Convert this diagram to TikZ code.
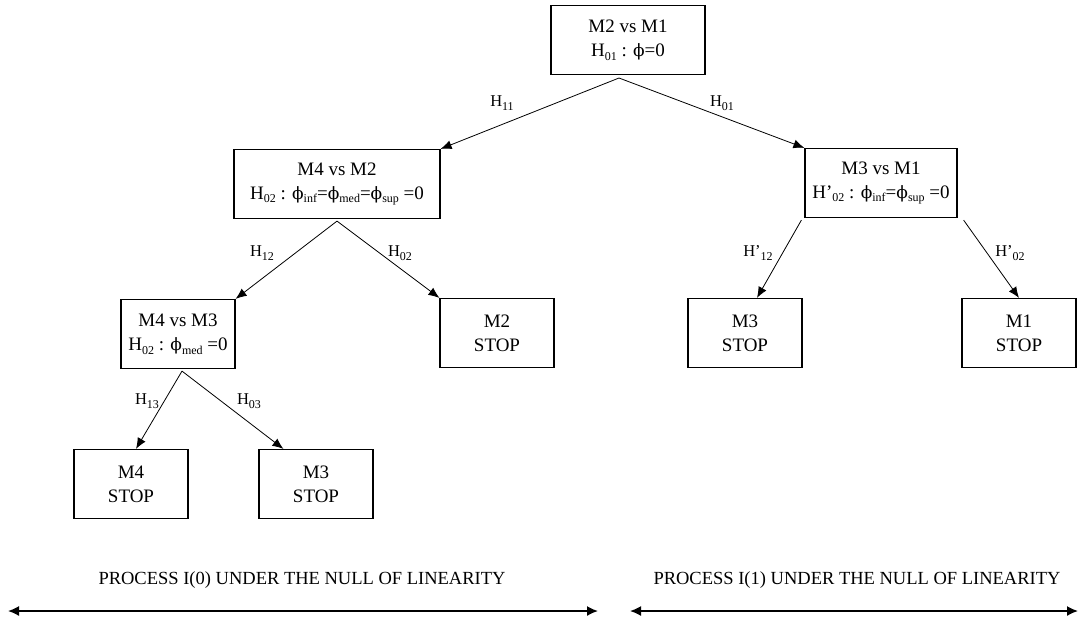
\documentclass[tikz,border=0pt]{standalone}
\usepackage{fontspec}
\setmainfont{Liberation Serif}
\newfontfamily\grk{DejaVu Serif}
\usetikzlibrary{positioning,arrows.meta}
\newcommand{\ph}{{\grk\fontsize{17}{17}\selectfont ϕ}}
\newcommand{\subx}[1]{\raisebox{-.45ex}{\fontsize{12}{12}\selectfont #1}}
\newcommand{\lsub}[1]{\raisebox{-.6ex}{\fontsize{12}{12}\selectfont #1}}
\tikzstyle{test} = [draw, line width=1.2pt, align=center, font=\fontsize{19}{24}\selectfont, inner sep=0pt, minimum height=69pt]
\tikzstyle{stopbox} = [test, minimum width=114pt]
\tikzstyle{lbl} = [font=\fontsize{16.5}{16.5}\selectfont, inner sep=1pt]
\tikzstyle{arr} = [-{Latex[length=11pt,width=9pt]}, line width=0.8pt]
\tikzstyle{span} = [{Latex[length=11pt,width=10pt]}-{Latex[length=11pt,width=10pt]}, line width=1.6pt]

\begin{document}
\begin{tikzpicture}[x=1pt,y=-1pt]
        \useasboundingbox (0,0) rectangle (1082,622);
        %Blocks
        \node [test, minimum width=154pt] (m21) at (628,40) {M2 vs M1\\H\subx{01} : \ph=0};
        \node [test, minimum width=206pt] (m42) at (337,184) {M4 vs M2\\H\subx{02} : \ph\subx{inf}=\ph\subx{med}=\ph\subx{sup} =0};
        \node [test, minimum width=152pt] (m31) at (881,183) {M3 vs M1\\H’\subx{02} : \ph\subx{inf}=\ph\subx{sup} =0};
        \node [test, minimum width=114pt] (m43) at (178,334) {M4 vs M3\\H\subx{02} : \ph\subx{med} =0};
        \node [stopbox] (m2stop) at (497,333) {M2\\STOP};
        \node [stopbox] (m3stopr) at (745,333) {M3\\STOP};
        \node [stopbox] (m1stop) at (1019,333) {M1\\STOP};
        \node [stopbox] (m4stop) at (131,484) {M4\\STOP};
        \node [stopbox] (m3stopl) at (316,484) {M3\\STOP};
        %Arrows
        \coordinate (top) at (619,78);
        \draw[arr] (top) -- (m42.north east) node[lbl] (l11) at (502,103) {H\lsub{11}};
        \draw[arr] (top) -- (m31.north west) node[lbl] (l01) at (722,103) {H\lsub{01}};
        \draw[arr] ([yshift=-2pt]m42.south) -- (m43.north east) node[lbl] (l12) at (262,253) {H\lsub{12}};
        \draw[arr] ([yshift=-2pt]m42.south) -- (m2stop.north west) node[lbl] (l02) at (400,253) {H\lsub{02}};
        \draw[arr] ([xshift=-3pt,yshift=-2pt]m31.south west) -- ([xshift=12pt]m3stopr.north) node[lbl] (l12p) at (758,253) {H’\lsub{12}};
        \draw[arr] ([xshift=6pt,yshift=-2pt]m31.south east) -- (m1stop.north) node[lbl] (l02p) at (1010,253) {H’\lsub{02}};
        \draw[arr] ([xshift=4pt,yshift=-2pt]m43.south) -- ([xshift=5pt]m4stop.north) node[lbl] (l13) at (147,401) {H\lsub{13}};
        \draw[arr] ([xshift=4pt,yshift=-2pt]m43.south) -- ([xshift=25pt]m3stopl.north west) node[lbl] (l03) at (249,401) {H\lsub{03}};
        %Processes
        \node [font=\fontsize{18.5}{18.5}\selectfont] (p0) at (302,580) {PROCESS I(0) UNDER THE NULL OF LINEARITY};
        \node [font=\fontsize{18.5}{18.5}\selectfont] (p1) at (857,580) {PROCESS I(1) UNDER THE NULL OF LINEARITY};
        \coordinate (p0a) at (8,611);
        \coordinate (p0b) at (598,611);
        \coordinate (p1a) at (630,611);
        \coordinate (p1b) at (1078,611);
        \draw[span] (p0a) -- (p0b);
        \draw[span] (p1a) -- (p1b);
    \end{tikzpicture}
\end{document}
